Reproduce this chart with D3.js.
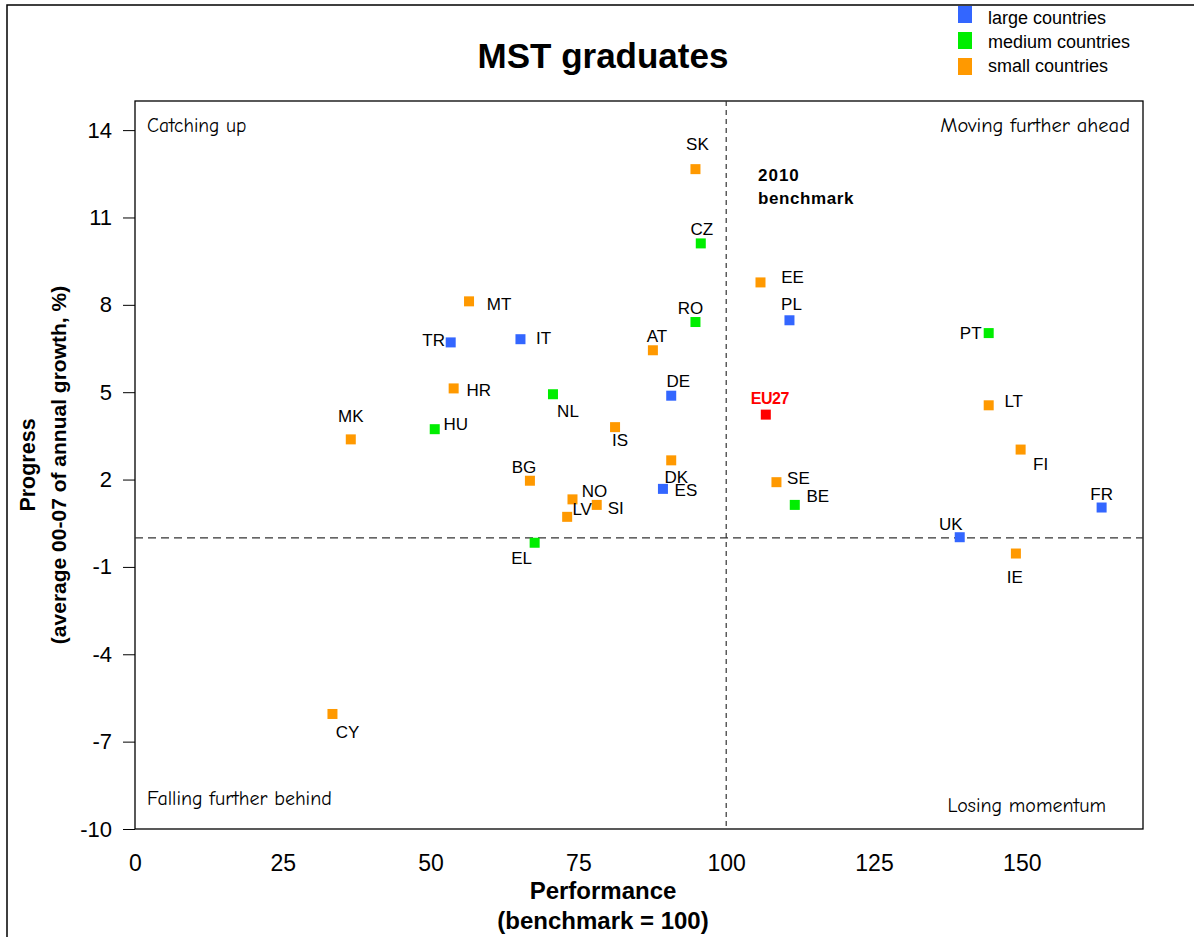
<!DOCTYPE html>
<html><head><meta charset="utf-8">
<script src="https://cdn.jsdelivr.net/npm/d3@7/dist/d3.min.js"></script>
<style>
body{margin:0;background:#fff;}
svg{display:block;}
.narrow{font-family:"Liberation Sans Narrow","Arial Narrow","Liberation Sans",Arial,sans-serif;}
</style></head><body>
<svg id="c" width="1194" height="937"></svg>
<script>
// ---- data ----
const countries = ["SK","CZ","RO","AT","DE","DK","ES","IS","NL","BG","NO","LV","SI","EL","HU","HR","TR","IT","MT","MK","CY","EE","PL","EU27","SE","BE","PT","LT","FI","FR","UK","IE"];
const performance = [94.8,95.7,94.8,87.6,90.7,90.7,89.3,81.2,70.7,66.8,74.0,73.1,78.1,67.6,50.7,53.9,53.4,65.2,56.5,36.5,33.4,105.8,110.7,106.7,108.5,111.6,144.4,144.4,149.8,163.5,139.5,149.0];
const progress = [12.66,10.11,7.41,6.44,4.88,2.66,1.68,3.80,4.93,1.96,1.32,0.72,1.13,-0.17,3.73,5.13,6.71,6.82,8.12,3.38,-6.05,8.77,7.47,4.23,1.91,1.13,7.03,4.55,3.03,1.04,0.02,-0.54];
const sizeGroup = ["small","medium","medium","small","large","small","large","small","medium","small","small","small","small","medium","medium","small","large","large","small","small","small","small","large","eu","small","medium","medium","small","small","large","large","small"];
const groups = ["large","medium","small"];
const groupLabels = ["large countries","medium countries","small countries"];
const xTicks = [0,25,50,75,100,125,150];
const yTicks = [-10,-7,-4,-1,2,5,8,11,14];
const benchmarkX = 100, benchmarkY = 0;
// label offsets (px) relative to marker: layout only
const labelOffsets = {SK:[2,-25],CZ:[1,-14],RO:[-5,-14],AT:[4,-14],DE:[7,-15],DK:[5,17],ES:[23,1],IS:[5,13],NL:[15,17],BG:[-6,-14],NO:[22,-8],LV:[15,-8],SI:[19,3],EL:[-13,15],HU:[21,-5],HR:[25,2],TR:[-17,-2],IT:[23,-1],MT:[30,3],MK:[0,-23],CY:[15,18],EE:[32,-5],PL:[2,-16],EU27:[4,-17],SE:[22,-4],BE:[23,-9],PT:[-18,0],LT:[25,-4],FI:[20,14],FR:[0,-14],UK:[-9,-13],IE:[-1,23]};

const color = {large:"#3366ff", medium:"#00ee00", small:"#ff9900", eu:"#ff0000"};
const sans = "Liberation Sans, Arial, sans-serif";

const svg = d3.select("#c");
// outer frame
svg.append("rect").attr("x",7).attr("y",5).attr("width",1300).attr("height",1100)
  .attr("fill","none").attr("stroke","#000").attr("stroke-width",1.5);

const x = d3.scaleLinear().domain([0,170.5]).range([135,1143]);
const y = d3.scaleLinear().domain([-10,15]).range([829,101]);

// plot frame
svg.append("rect").attr("x",x(0)).attr("y",y(15)).attr("width",x(170.5)-x(0)).attr("height",y(-10)-y(15))
  .attr("fill","#fff").attr("stroke","#000").attr("stroke-width",1.3);

// y axis
const yAxis = d3.axisLeft(y).tickValues(yTicks).tickSize(12).tickFormat(d=>String(d));
const gy = svg.append("g").attr("transform",`translate(${x(0)},0)`).call(yAxis);
gy.select(".domain").remove();
gy.selectAll("line").attr("stroke","#000");
gy.selectAll("text").attr("x",-23).attr("font-family",sans).attr("font-size",22).attr("fill","#000");

// x axis
const xAxis = d3.axisBottom(x).tickValues(xTicks).tickSize(0).tickFormat(d=>String(d));
const gx = svg.append("g").attr("transform",`translate(0,${y(-10)})`).call(xAxis);
gx.select(".domain").remove();
gx.selectAll("text").attr("y",26).attr("class","narrow").attr("font-size",23).attr("fill","#000");

// benchmark lines
svg.append("line").attr("x1",x(benchmarkX)).attr("x2",x(benchmarkX)).attr("y1",y(15)).attr("y2",y(-10))
  .attr("stroke","#333").attr("stroke-width",1.2).attr("stroke-dasharray","5,4");
svg.append("line").attr("x1",x(0)).attr("x2",x(170.5)).attr("y1",y(benchmarkY)).attr("y2",y(benchmarkY))
  .attr("stroke","#333").attr("stroke-width",1.2).attr("stroke-dasharray","8,5");

// quadrant labels
const qf = "'Comic Sans MS','Comic Neue','DejaVu Sans',sans-serif";
const q = [["Catching up",147,132,"start",19.5],["Moving further ahead",1130,132,"end",20.5],["Falling further behind",147,805,"start",20],["Losing momentum",1106,812,"end",20]];
q.forEach(d=>svg.append("text").text(d[0]).attr("x",d[1]).attr("y",d[2]).attr("text-anchor",d[3])
  .attr("font-family",qf).attr("font-size",d[4]).attr("fill","#000"));

// benchmark label
svg.append("text").attr("x",758).attr("y",181).attr("font-family",sans).attr("font-weight","bold").attr("font-size",17).attr("letter-spacing",1).text("2010");
svg.append("text").attr("x",758).attr("y",204).attr("font-family",sans).attr("font-weight","bold").attr("font-size",17).attr("letter-spacing",0.6).text("benchmark");

// points
const data = countries.map((c,i)=>({c, px:performance[i], pr:progress[i], g:sizeGroup[i]}));
svg.append("g").selectAll("rect").data(data).join("rect")
  .attr("x",d=>x(d.px)-5).attr("y",d=>y(d.pr)-5).attr("width",10).attr("height",10)
  .attr("fill",d=>color[d.g]);
svg.append("g").selectAll("text").data(data).join("text")
  .attr("x",d=>x(d.px)+labelOffsets[d.c][0]).attr("y",d=>y(d.pr)+labelOffsets[d.c][1]+6)
  .attr("text-anchor","middle").attr("font-family",sans)
  .attr("font-size",d=>d.g==="eu"?16:17)
  .attr("font-weight",d=>d.g==="eu"?"bold":"normal")
  .attr("letter-spacing",d=>d.g==="eu"?-0.5:0)
  .attr("fill",d=>d.g==="eu"?"#ff0000":"#000").text(d=>d.c);

// title
svg.append("text").attr("x",603).attr("y",68).attr("text-anchor","middle")
  .attr("font-family",sans).attr("font-weight","bold").attr("font-size",35).text("MST graduates");

// legend
const lg = svg.append("g");
groups.forEach((g,i)=>{
  lg.append("rect").attr("x",958).attr("y",6+i*26).attr("width",14).attr("height",17).attr("fill",color[g]);
  lg.append("text").attr("x",988).attr("y",24+i*24).attr("font-family",sans)
    .attr("font-size",18).attr("fill","#000").text(groupLabels[i]);
});

// axis titles
svg.append("text").attr("class","narrow").attr("x",603).attr("y",899).attr("text-anchor","middle")
  .attr("font-weight","bold").attr("font-size",24).text("Performance");
svg.append("text").attr("class","narrow").attr("x",603).attr("y",929).attr("text-anchor","middle")
  .attr("font-weight","bold").attr("font-size",24).text("(benchmark = 100)");
svg.append("text").attr("transform","translate(35,465) rotate(-90)").attr("text-anchor","middle")
  .attr("font-family",sans).attr("font-weight","bold").attr("font-size",21.5).text("Progress");
svg.append("text").attr("transform","translate(66,465) rotate(-90)").attr("text-anchor","middle")
  .attr("font-family",sans).attr("font-weight","bold").attr("font-size",21).text("(average 00-07 of annual growth, %)");
</script>
</body></html>
